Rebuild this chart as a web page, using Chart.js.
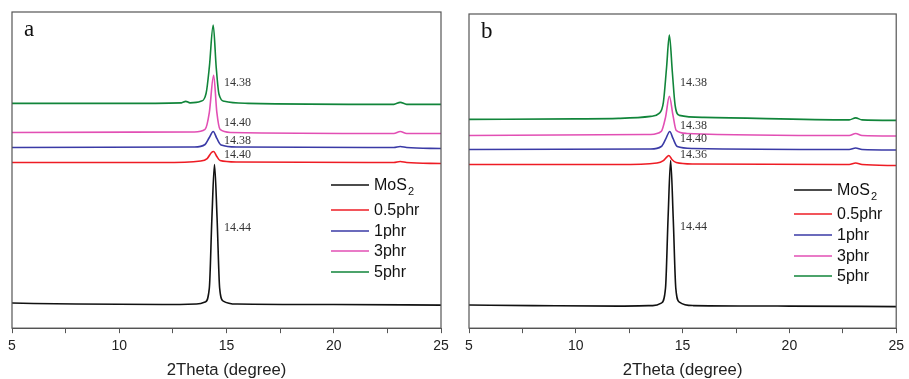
<!DOCTYPE html>
<html>
<head>
<meta charset="utf-8">
<script src="https://cdn.jsdelivr.net/npm/chart.js@4/dist/chart.umd.min.js"></script>
<style>
  body { margin: 0; background: #fff; overflow: hidden; }
  canvas { position: absolute; top: 0; }
  #chartA { left: 0; }
  #chartB { left: 455px; }
</style>
</head>
<body>
<canvas id="chartA" width="455" height="380"></canvas>
<canvas id="chartB" width="454" height="380"></canvas>
<script>
// series names and colours
const seriesNames = ["MoS\u2082", "0.5phr", "1phr", "3phr", "5phr"];
const seriesColors = ["#111111", "#ee1c24", "#3a3aa6", "#e24fb4", "#11853a"];
const xTicks = [5, 10, 15, 20, 25];

// panel a: [2theta, offset intensity]
const aMoS2 = [[5,25],[8,24],[12,23.5],[13.6,24],[14.0,26],[14.2,40],[14.32,110],[14.44,163],[14.56,110],[14.68,40],[14.85,27],[15.5,24],[20,23.5],[25,23]];
const aPhr05 = [[5,165],[12,165],[13.8,166.5],[14.1,169],[14.3,175],[14.4,176],[14.55,171],[14.7,167],[15.5,165.5],[22.8,165],[23.1,166],[23.4,165],[25,164]];
const aPhr1 = [[5,180],[13.5,180.5],[14.0,183],[14.2,190],[14.38,196],[14.55,189],[14.75,182.5],[15.5,180.5],[22.8,180],[23.1,181],[23.4,180],[25,179]];
const aPhr3 = [[5,195],[13.5,195.5],[14.0,198],[14.2,215],[14.4,252],[14.55,215],[14.7,198],[15.2,195],[22.8,194],[23.1,196],[23.4,194],[25,194]];
const aPhr5 = [[5,224],[10,224],[12.9,224.5],[13.1,226],[13.3,224.5],[13.8,226],[14.05,234],[14.2,260],[14.38,302],[14.52,260],[14.65,233],[14.9,226],[16,224],[22.8,223],[23.1,225],[23.4,223],[25,223]];
const aPeaks = [["14.38",244],["14.40",205],["14.38",187],["14.40",173],["14.44",100]];

// panel b
const bMoS2 = [[5,23],[8,22.5],[12,22],[13.6,22.5],[14.0,25],[14.2,40],[14.32,110],[14.44,167],[14.56,110],[14.68,40],[14.85,26],[15.5,22.5],[20,22],[25,21.5]];
const bPhr05 = [[5,163],[12,163],[13.8,164.5],[14.1,167],[14.28,171],[14.36,172],[14.5,168],[14.7,165],[15.5,163.5],[22.8,163],[23.1,164.5],[23.4,163],[25,162]];
const bPhr1 = [[5,178],[13.5,178.5],[14.0,181],[14.2,188],[14.4,196],[14.55,189],[14.75,181],[15.5,179],[22.8,178],[23.1,179.5],[23.4,178],[25,177.5]];
const bPhr3 = [[5,192],[13.5,193],[14.0,196],[14.2,210],[14.38,231],[14.55,212],[14.7,197],[15.2,194],[22.8,192],[23.1,194],[23.4,192],[25,191.5]];
const bPhr5 = [[5,208],[10,208.5],[12,209],[13.5,211],[13.9,214],[14.1,225],[14.25,260],[14.38,292],[14.52,255],[14.65,222],[14.85,212],[16,210],[22.8,207.5],[23.1,209.5],[23.4,207.5],[25,207]];
const bPeaks = [["14.38",244],["14.38",202],["14.40",189],["14.36",173],["14.44",101]];

const peakLabelX = 14.88;

const frameAndText = {
  id: "frameAndText",
  afterDatasetsDraw(chart, args, opts) {
    const ctx = chart.ctx, area = chart.chartArea;
    const xs = chart.scales.x, ys = chart.scales.y;
    ctx.save();
    // peak position labels
    ctx.fillStyle = "#333";
    ctx.font = "12px 'Liberation Serif', 'DejaVu Serif', serif";
    ctx.textBaseline = "middle";
    opts.peaks.forEach(p => {
      ctx.fillText(p[0], xs.getPixelForValue(peakLabelX), ys.getPixelForValue(p[1]));
    });
    // panel letter
    ctx.fillStyle = "#111";
    ctx.font = "23px 'Liberation Serif', 'DejaVu Serif', serif";
    ctx.textBaseline = "alphabetic";
    ctx.fillText(opts.letter, area.left + 12, area.top + 24);
    // legend
    ctx.font = "16px 'Liberation Sans', Arial, sans-serif";
    ctx.textBaseline = "middle";
    seriesNames.forEach((n, i) => {
      const y = opts.legendY[i];
      ctx.strokeStyle = seriesColors[i];
      ctx.lineWidth = 1.6;
      ctx.beginPath();
      ctx.moveTo(opts.legendX, y);
      ctx.lineTo(opts.legendX + 38, y);
      ctx.stroke();
      ctx.fillStyle = "#111";
      if (i === 0) {
        ctx.fillText("MoS", opts.legendX + 43, y + 1);
        const w = ctx.measureText("MoS").width;
        ctx.font = "11px 'Liberation Sans', Arial, sans-serif";
        ctx.fillText("2", opts.legendX + 44 + w, y + 7);
        ctx.font = "16px 'Liberation Sans', Arial, sans-serif";
      } else {
        ctx.fillText(n, opts.legendX + 43, y + 1);
      }
    });
    // frame
    ctx.strokeStyle = "#555";
    ctx.lineWidth = 1.2;
    ctx.strokeRect(area.left, area.top, area.right - area.left, area.bottom - area.top);
    ctx.restore();
  }
};

function makeChart(id, series, yMax, pad, opts) {
  // MoS2 gets a higher order so it is drawn under the others
  const datasets = series.map((pts, i) => ({
    label: seriesNames[i],
    data: pts.map(p => ({x: p[0], y: p[1]})),
    borderColor: seriesColors[i],
    borderWidth: 1.6,
    pointRadius: 0,
    cubicInterpolationMode: "monotone",
    order: i === 0 ? 1 : 0
  }));
  return new Chart(document.getElementById(id), {
    type: "line",
    data: {datasets},
    options: {
      responsive: false,
      animation: false,
      layout: {padding: pad},
      plugins: {legend: {display: false}, tooltip: {enabled: false}, frameAndText: opts},
      scales: {
        x: {
          type: "linear", min: 5, max: 25,
          grid: {drawOnChartArea: false, drawTicks: true, tickLength: 5, tickColor: "#555"},
          border: {display: true, color: "#555"},
          ticks: {
            stepSize: 2.5, autoSkip: false, maxRotation: 0, padding: 5,
            color: "#222", font: {family: "'Liberation Sans', Arial, sans-serif", size: 14},
            callback: v => xTicks.includes(v) ? v : ""
          },
          title: {
            display: true, text: "2Theta (degree)", color: "#222",
            font: {family: "'Liberation Sans', Arial, sans-serif", size: 16.7},
            padding: {top: 0, bottom: 0}
          }
        },
        y: {display: false, min: 0, max: yMax}
      }
    },
    plugins: [frameAndText]
  });
}

makeChart("chartA", [aMoS2, aPhr05, aPhr1, aPhr3, aPhr5], 315,
  {left: 12, right: 14, top: 12, bottom: 0},
  {letter: "a", peaks: aPeaks, legendX: 331, legendY: [185, 210, 231, 251, 272]});

makeChart("chartB", [bMoS2, bPhr05, bPhr1, bPhr3, bPhr5], 313,
  {left: 14, right: 9, top: 14, bottom: 0},
  {letter: "b", peaks: bPeaks, legendX: 339, legendY: [190, 214, 235, 256, 276]});
</script>
</body>
</html>
